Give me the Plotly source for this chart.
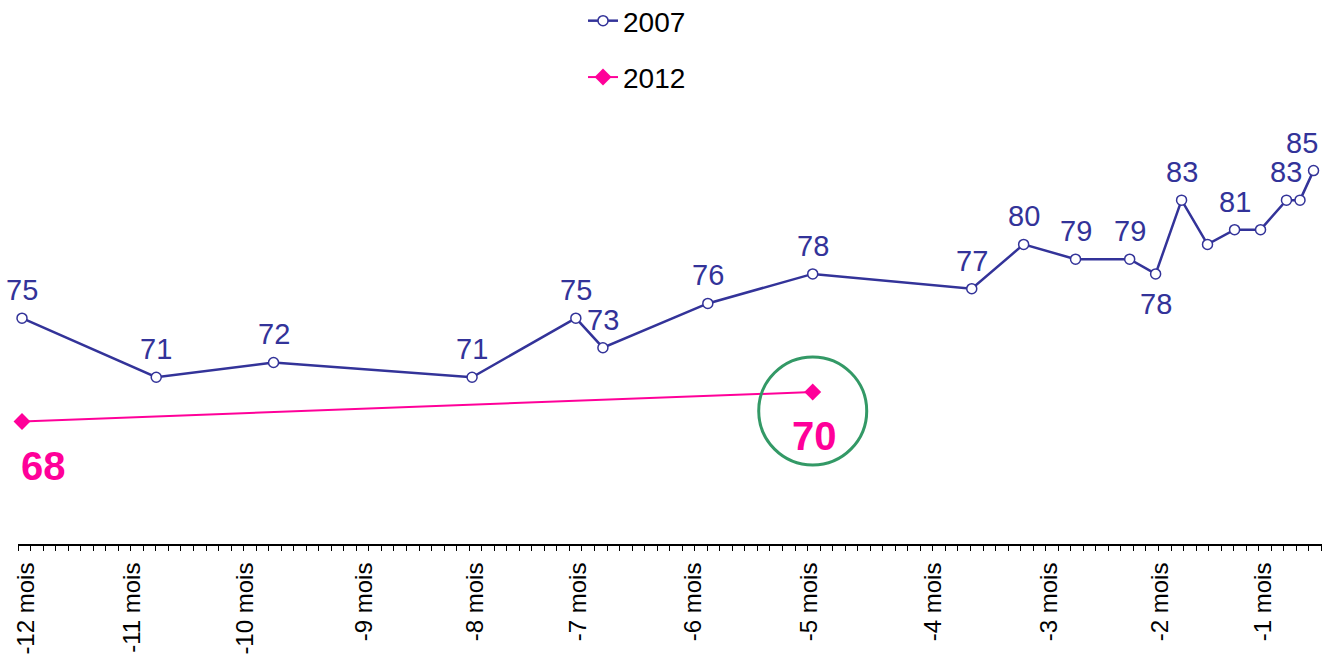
import plotly.graph_objects as go

# --- data ---
months_2007 = [-12.00, -10.81, -9.77, -8.01, -7.09, -6.85, -5.92, -4.99, -3.58, -3.12,
               -2.66, -2.18, -1.95, -1.72, -1.49, -1.25, -1.02, -0.79, -0.67, -0.55]
values_2007 = [75, 71, 72, 71, 75, 73, 76, 78, 77, 80, 79, 79, 78, 83, 80, 81, 81, 83, 83, 85]
labels_2007 = ["75", "71", "72", "71", "75", "73", "76", "78", "77", "80", "79", "79", "78",
               "83", "", "81", "", "83", "", "85"]
label_below_2007 = [False] * 12 + [True] + [False] * 7

months_2012 = [-12.00, -4.99]
values_2012 = [68, 70]

tick_months = [-11.96, -11.02, -10.02, -8.97, -7.98, -7.07, -6.05, -5.02, -3.92, -2.89, -1.91, -1.00]
tick_labels = ["-12 mois", "-11 mois", "-10 mois", "-9 mois", "-8 mois", "-7 mois", "-6 mois",
               "-5 mois", "-4 mois", "-3 mois", "-2 mois", "-1 mois"]

BLUE = "#333399"
PINK = "#FF0099"
GREEN = "#339966"
FONT = "Arial, Liberation Sans, sans-serif"

fig = go.Figure()
fig.add_trace(go.Scatter(
    x=months_2007, y=values_2007, name="2007", legendgroup="a",
    mode="lines+markers",
    line=dict(color=BLUE, width=2.5),
    marker=dict(symbol="circle", size=10, color="white", line=dict(color=BLUE, width=1.5)),
    cliponaxis=False,
))
fig.add_trace(go.Scatter(
    x=months_2012, y=values_2012, name="2012", legendgroup="b",
    mode="lines+markers",
    line=dict(color=PINK, width=2),
    marker=dict(symbol="diamond", size=13, color=PINK),
    cliponaxis=False,
))

# value labels for 2007
n = len(months_2007)
for i, (m, v, t, below) in enumerate(zip(months_2007, values_2007, labels_2007, label_below_2007)):
    if not t:
        continue
    last = i == n - 1
    fig.add_annotation(
        x=m, y=v, text=t, showarrow=False,
        font=dict(family=FONT, size=29, color=BLUE),
        xanchor="right" if last else "center", yanchor="middle",
        xshift=6 if last else 0,
        yshift=-30 if below else 28,
    )

# bold labels for 2012
for i, (m, v) in enumerate(zip(months_2012, values_2012)):
    fig.add_annotation(
        x=m, y=v, text=f"<b>{v}</b>", showarrow=False,
        font=dict(family=FONT, size=40, color=PINK),
        xanchor="left" if i == 0 else "center", yanchor="middle",
        xshift=-3 if i == 0 else 2, yshift=-44,
    )

# green highlight circle around the last 2012 point
fig.add_shape(
    type="circle", xref="x", yref="y", xsizemode="pixel", ysizemode="pixel",
    xanchor=months_2012[-1], yanchor=values_2012[-1],
    x0=-54, x1=54, y0=-73, y1=35,
    line=dict(color=GREEN, width=3),
)

fig.update_layout(
    width=1322, height=656,
    margin=dict(l=18, r=0, t=0, b=112, autoexpand=False),
    paper_bgcolor="white", plot_bgcolor="white",
    showlegend=True,
    legend=dict(
        x=0.4333, y=1.0074, xanchor="left", yanchor="top",
        font=dict(family=FONT, size=28, color="black"),
        tracegroupgap=17, traceorder="grouped",
        bgcolor="rgba(0,0,0,0)",
    ),
    xaxis=dict(
        range=[-12.0355, -0.475], automargin=False,
        showgrid=False, zeroline=False,
        showline=True, linecolor="black", linewidth=2,
        tickmode="array", tickvals=tick_months, ticktext=tick_labels,
        ticks="", tickangle=-90,
        tickfont=dict(family=FONT, size=24, color="black"),
        ticklabelstandoff=7,
        minor=dict(tickmode="linear", tick0=-12.0355, dtick=1/9, ticks="outside",
                   ticklen=5, tickcolor="black", tickwidth=1, showgrid=False),
    ),
    yaxis=dict(range=[59.7, 96.56], visible=False, showgrid=False, zeroline=False,
               automargin=False),
)

fig.write_html(
    "out.html",
    config={"displayModeBar": False},
    post_script="document.body.style.margin='0';"
                "document.body.style.overflow='hidden';"
                "document.documentElement.style.overflow='hidden';",
)
